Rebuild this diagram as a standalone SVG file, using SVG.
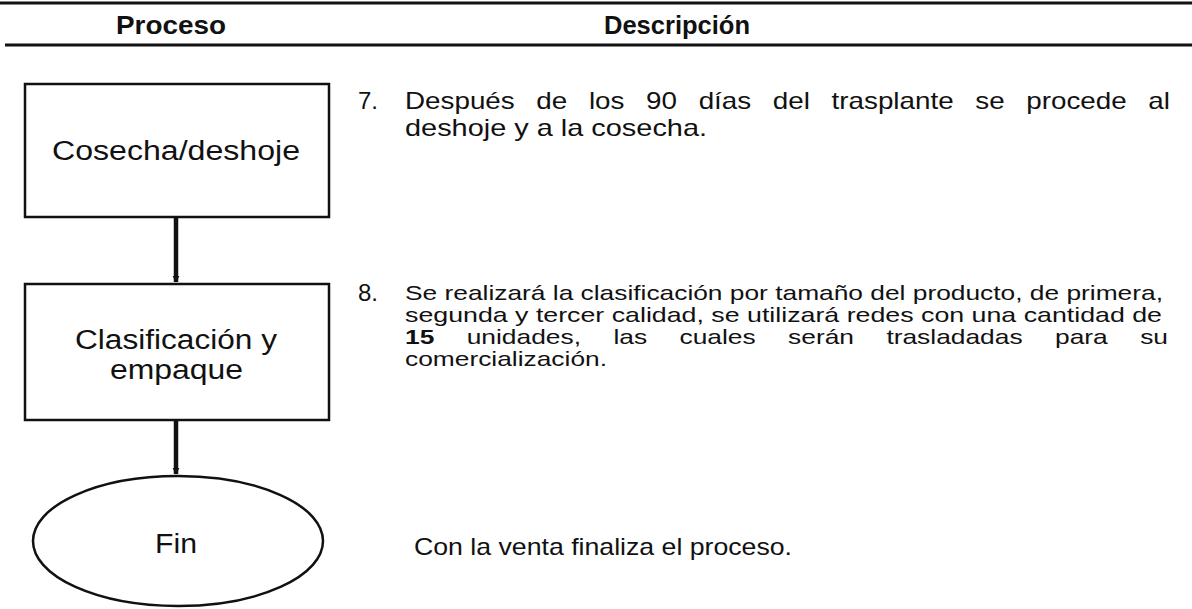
<svg xmlns="http://www.w3.org/2000/svg" width="1192" height="609" viewBox="0 0 1192 609">
<style>
.rule{stroke:#111;stroke-width:3}
.box{fill:#fff;stroke:#111;stroke-width:2.5}
.conn{stroke:#111;stroke-width:4.5;fill:none}
.hd{font-family:"Liberation Sans",Arial,sans-serif;font-weight:bold;font-size:26px;fill:#111}
.nt{font-family:"Liberation Sans",Arial,sans-serif;font-size:27px;fill:#111}
.d7{font-family:"Liberation Sans",Arial,sans-serif;font-size:24px;fill:#111}
.d8{font-family:"Liberation Sans",Arial,sans-serif;font-size:21px;fill:#111}
</style>
<defs>
<marker id="ah" viewBox="0 0 10 10" refX="9" refY="5" markerWidth="1.6" markerHeight="1.6" orient="auto" markerUnits="strokeWidth">
<path d="M0,0 L10,5 L0,10 z" fill="#111"/>
</marker>
</defs>
<rect width="1192" height="609" fill="#fff"/>
<g id="header">
<line class="rule" x1="0" y1="3" x2="1192" y2="3"/>
<line class="rule" x1="5" y1="45" x2="1192" y2="45"/>
<text class="hd" x="116" y="34" textLength="110" lengthAdjust="spacingAndGlyphs">Proceso</text>
<text class="hd" x="604" y="34" textLength="146" lengthAdjust="spacingAndGlyphs">Descripción</text>
</g>
<g id="connectors">
<line class="conn" x1="176" y1="217" x2="176" y2="282" marker-end="url(#ah)"/>
<line class="conn" x1="176" y1="421" x2="176" y2="474" marker-end="url(#ah)"/>
</g>
<g id="node-cosecha">
<rect class="box" x="25" y="84" width="304" height="133"/>
<text class="nt" x="52" y="160" textLength="248" lengthAdjust="spacingAndGlyphs">Cosecha/deshoje</text>
</g>
<g id="node-clasificacion">
<rect class="box" x="25" y="284" width="304" height="136"/>
<text class="nt" x="75" y="349" textLength="202" lengthAdjust="spacingAndGlyphs">Clasificación y</text>
<text class="nt" x="110" y="379" textLength="133" lengthAdjust="spacingAndGlyphs">empaque</text>
</g>
<g id="node-fin">
<ellipse class="box" cx="178" cy="541" rx="145" ry="65" stroke-width="2"/>
<text class="nt" x="155" y="553" textLength="42" lengthAdjust="spacingAndGlyphs">Fin</text>
</g>
<g id="desc-7">
<text class="d7" x="358" y="109">7.</text>
<text class="d7" x="405" y="109" word-spacing="12" textLength="765" lengthAdjust="spacingAndGlyphs">Después de los 90 días del trasplante se procede al</text>
<text class="d7" x="405" y="136" textLength="302" lengthAdjust="spacingAndGlyphs">deshoje y a la cosecha.</text>
</g>
<g id="desc-8">
<text class="d7" x="358" y="301">8.</text>
<text class="d8" x="405" y="300" textLength="758" lengthAdjust="spacingAndGlyphs">Se realizará la clasificación por tamaño del producto, de primera,</text>
<text class="d8" x="405" y="322" textLength="757" lengthAdjust="spacingAndGlyphs">segunda y tercer calidad, se utilizará redes con una cantidad de</text>
<text class="d8" x="405" y="344" word-spacing="20" textLength="763" lengthAdjust="spacingAndGlyphs"><tspan font-weight="bold">15</tspan> unidades, las cuales serán trasladadas para su</text>
<text class="d8" x="405" y="366" textLength="202" lengthAdjust="spacingAndGlyphs">comercialización.</text>
</g>
<g id="desc-fin">
<text class="d7" x="414" y="555" textLength="378" lengthAdjust="spacingAndGlyphs">Con la venta finaliza el proceso.</text>
</g>
</svg>
